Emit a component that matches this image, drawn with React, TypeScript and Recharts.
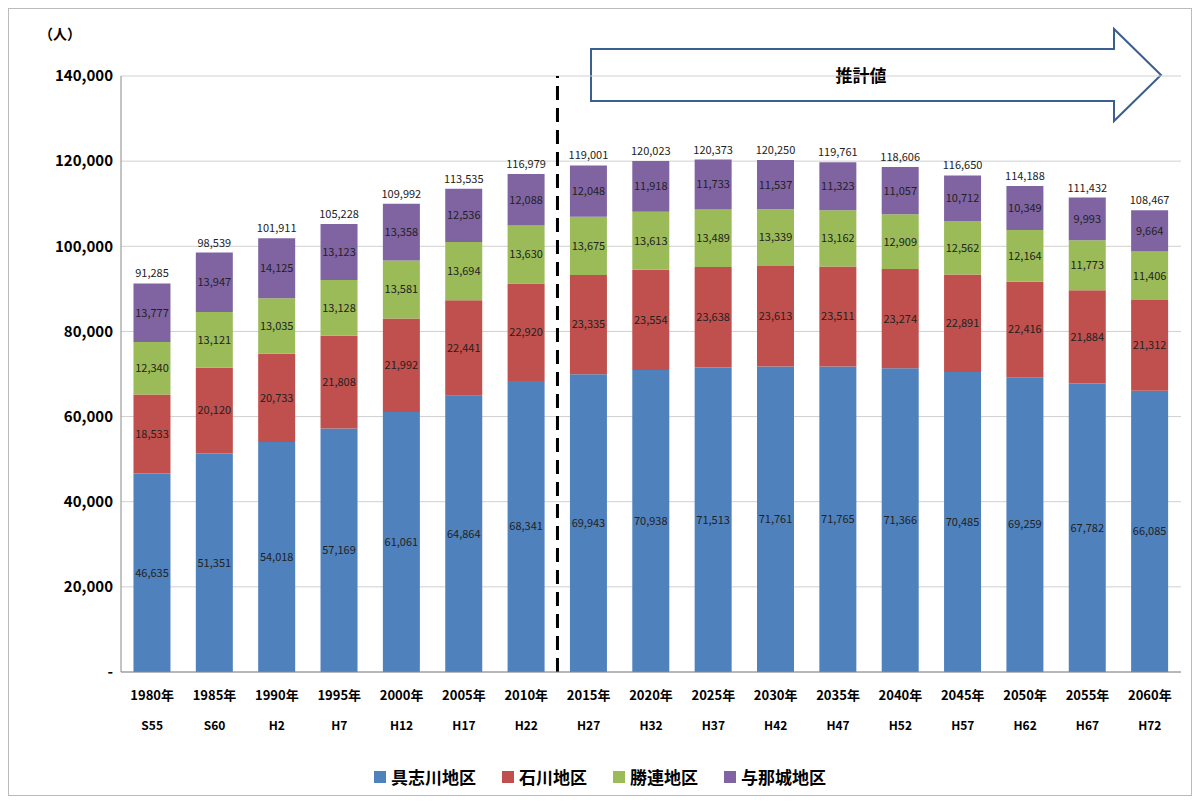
import { ComposedChart, Bar, XAxis, YAxis, CartesianGrid, LabelList, ReferenceLine } from 'recharts';

const years = ['1980年', '1985年', '1990年', '1995年', '2000年', '2005年', '2010年', '2015年', '2020年', '2025年', '2030年', '2035年', '2040年', '2045年', '2050年', '2055年', '2060年'];
const eras = ['S55', 'S60', 'H2', 'H7', 'H12', 'H17', 'H22', 'H27', 'H32', 'H37', 'H42', 'H47', 'H52', 'H57', 'H62', 'H67', 'H72'];
const gushikawa = [46635, 51351, 54018, 57169, 61061, 64864, 68341, 69943, 70938, 71513, 71761, 71765, 71366, 70485, 69259, 67782, 66085];
const ishikawa = [18533, 20120, 20733, 21808, 21992, 22441, 22920, 23335, 23554, 23638, 23613, 23511, 23274, 22891, 22416, 21884, 21312];
const katsuren = [12340, 13121, 13035, 13128, 13581, 13694, 13630, 13675, 13613, 13489, 13339, 13162, 12909, 12562, 12164, 11773, 11406];
const yonashiro = [13777, 13947, 14125, 13123, 13358, 12536, 12088, 12048, 11918, 11733, 11537, 11323, 11057, 10712, 10349, 9993, 9664];
const totals = [91285, 98539, 101911, 105228, 109992, 113535, 116979, 119001, 120023, 120373, 120250, 119761, 118606, 116650, 114188, 111432, 108467];
const yTicks = [0, 20000, 40000, 60000, 80000, 100000, 120000, 140000];
const legendItems = [
  { name: '具志川地区', color: '#4F81BD' },
  { name: '石川地区', color: '#C0504D' },
  { name: '勝連地区', color: '#9BBB59' },
  { name: '与那城地区', color: '#8064A2' },
];

const data = years.map((y, i) => ({
  year: y,
  era: eras[i],
  a: gushikawa[i],
  b: ishikawa[i],
  c: katsuren[i],
  d: yonashiro[i],
  total: totals[i],
}));

const fmt = (v: number) => v.toLocaleString('en-US');
const font = '"Noto Sans CJK JP", "Noto Sans", sans-serif';

const XTick = (props: any) => {
  const { x, y, payload, index } = props;
  return (
    <g>
      <text x={x} y={y + 20} textAnchor="middle" fontSize={13} fontWeight="bold" fill="#000" fontFamily={font}>{payload.value}</text>
      <text x={x} y={y + 50} textAnchor="middle" fontSize={12} fontWeight="bold" fill="#000" fontFamily={font}>{eras[index]}</text>
    </g>
  );
};

const labelStyle = { fontSize: 11, fill: '#222', fontFamily: font };

export default function App() {
  return (
    <div style={{ position: 'relative', width: 1184, height: 788, border: '1px solid #bbb', boxSizing: 'border-box', fontFamily: font }}>
      <div style={{ position: 'absolute', left: 30, top: 14, fontSize: 14, fontWeight: 'bold' }}>（人）</div>
      <svg style={{ position: 'absolute', left: 0, top: 0 }} width={1184} height={140}>
        <polygon points="582,40 1105,40 1105,20 1152,66 1105,112 1105,92 582,92" fill="#fff" stroke="#3b5f8c" strokeWidth={2} />
        <text x={852} y={73} textAnchor="middle" fontSize={17} fontWeight="bold" fontFamily={font}>推計値</text>
      </svg>
      <ComposedChart width={1184} height={786} data={data} margin={{ top: 67, right: 12, bottom: 61, left: 20 }} barCategoryGap="20%">
        <CartesianGrid vertical={false} stroke="#d0d0d0" />
        <XAxis dataKey="year" tick={<XTick />} tickLine={false} axisLine={{ stroke: '#888' }} height={62} interval={0} />
        <YAxis
          domain={[0, 140000]}
          ticks={yTicks}
          width={92}
          tickLine={false}
          axisLine={{ stroke: '#888' }}
          tickFormatter={(v: number) => (v === 0 ? '-' : fmt(v))}
          tick={{ fontSize: 15, fontWeight: 'bold', fill: '#000', fontFamily: font }}
        />
        <Bar dataKey="a" name="具志川地区" stackId="s" fill="#4F81BD" isAnimationActive={false}>
          <LabelList dataKey="a" position="center" formatter={(v: any) => fmt(v)} style={labelStyle} />
        </Bar>
        <Bar dataKey="b" name="石川地区" stackId="s" fill="#C0504D" isAnimationActive={false}>
          <LabelList dataKey="b" position="center" formatter={(v: any) => fmt(v)} style={labelStyle} />
        </Bar>
        <Bar dataKey="c" name="勝連地区" stackId="s" fill="#9BBB59" isAnimationActive={false}>
          <LabelList dataKey="c" position="center" formatter={(v: any) => fmt(v)} style={labelStyle} />
        </Bar>
        <Bar dataKey="d" name="与那城地区" stackId="s" fill="#8064A2" isAnimationActive={false}>
          <LabelList dataKey="d" position="center" formatter={(v: any) => fmt(v)} style={labelStyle} />
          <LabelList dataKey="total" position="top" offset={6} formatter={(v: any) => fmt(v)} style={labelStyle} />
        </Bar>
        <ReferenceLine x="2015年" position="start" stroke="#000" strokeWidth={3} strokeDasharray="14 8" />
      </ComposedChart>
      <div style={{ position: 'absolute', left: 0, right: 0, top: 755, display: 'flex', justifyContent: 'center', gap: 26, fontSize: 17, fontWeight: 'bold' }}>
        {legendItems.map((it) => (
          <span key={it.name} style={{ display: 'flex', alignItems: 'center', gap: 5 }}>
            <span style={{ width: 12, height: 12, background: it.color, display: 'inline-block' }} />
            {it.name}
          </span>
        ))}
      </div>
    </div>
  );
}
